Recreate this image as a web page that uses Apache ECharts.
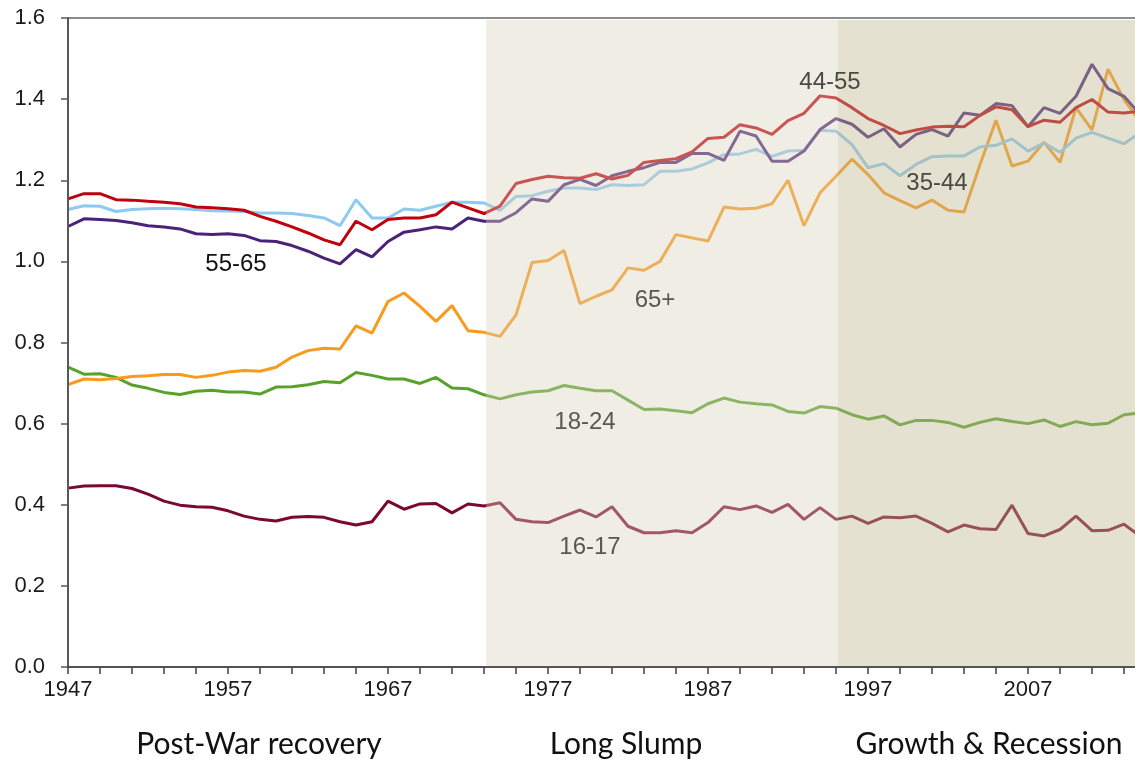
<!DOCTYPE html>
<html lang="en">
<head>
<meta charset="utf-8">
<title>Ratio by age group, 1947-2014</title>
<script src="https://cdn.jsdelivr.net/npm/echarts@6/dist/echarts.min.js"></script>
<style>
  html, body { margin: 0; padding: 0; background: #fff; }
  #main { width: 1135px; height: 765px; }
</style>
</head>
<body>
<div id="main"></div>
<script>
// x categories
var years = ['1947','1948','1949','1950','1951','1952','1953','1954','1955','1956',
  '1957','1958','1959','1960','1961','1962','1963','1964','1965','1966',
  '1967','1968','1969','1970','1971','1972','1973','1974','1975','1976',
  '1977','1978','1979','1980','1981','1982','1983','1984','1985','1986',
  '1987','1988','1989','1990','1991','1992','1993','1994','1995','1996',
  '1997','1998','1999','2000','2001','2002','2003','2004','2005','2006',
  '2007','2008','2009','2010','2011','2012','2013','2014'];

// series values (1947 .. 2014)
var age44_55 = [1.154,1.167,1.167,1.152,1.151,1.148,1.146,1.142,1.134,1.132,
  1.130,1.126,1.111,1.099,1.085,1.070,1.053,1.041,1.099,1.078,
  1.103,1.107,1.107,1.115,1.146,1.132,1.118,1.136,1.192,1.202,
  1.210,1.206,1.205,1.216,1.203,1.212,1.244,1.249,1.253,1.270,
  1.303,1.306,1.337,1.329,1.313,1.347,1.365,1.408,1.403,1.379,
  1.352,1.335,1.315,1.324,1.331,1.333,1.332,1.360,1.381,1.374,
  1.332,1.348,1.343,1.379,1.399,1.368,1.366,1.370];

var age35_44 = [1.128,1.137,1.136,1.123,1.128,1.130,1.131,1.130,1.128,1.125,
  1.124,1.123,1.119,1.119,1.118,1.113,1.107,1.088,1.152,1.107,
  1.107,1.129,1.126,1.136,1.146,1.146,1.144,1.126,1.160,1.162,
  1.173,1.181,1.181,1.177,1.189,1.187,1.189,1.222,1.222,1.228,
  1.243,1.263,1.265,1.276,1.259,1.272,1.274,1.323,1.321,1.288,
  1.231,1.241,1.211,1.239,1.258,1.260,1.260,1.282,1.286,1.302,
  1.272,1.292,1.269,1.304,1.318,1.304,1.290,1.317];

var age55_65 = [1.086,1.105,1.103,1.101,1.095,1.088,1.085,1.080,1.068,1.066,
  1.068,1.064,1.051,1.049,1.039,1.025,1.008,0.994,1.029,1.011,
  1.049,1.072,1.078,1.085,1.080,1.107,1.099,1.099,1.120,1.154,
  1.148,1.189,1.202,1.187,1.211,1.222,1.231,1.244,1.244,1.266,
  1.266,1.249,1.321,1.309,1.247,1.247,1.272,1.325,1.352,1.338,
  1.306,1.327,1.282,1.313,1.325,1.309,1.366,1.360,1.389,1.384,
  1.332,1.379,1.365,1.407,1.486,1.426,1.407,1.362];

var age65plus = [0.696,0.710,0.708,0.711,0.716,0.718,0.721,0.721,0.714,0.719,
  0.727,0.731,0.729,0.739,0.764,0.780,0.786,0.784,0.841,0.823,
  0.901,0.922,0.889,0.852,0.891,0.829,0.825,0.815,0.868,0.997,
  1.002,1.027,0.896,0.914,0.930,0.984,0.978,1.000,1.066,1.058,
  1.050,1.134,1.129,1.131,1.142,1.200,1.088,1.169,1.210,1.252,
  1.214,1.169,1.150,1.132,1.151,1.126,1.122,1.239,1.348,1.235,
  1.247,1.294,1.244,1.379,1.324,1.474,1.399,1.345];

var age18_24 = [0.739,0.722,0.723,0.714,0.695,0.687,0.677,0.672,0.680,0.682,
  0.678,0.678,0.673,0.690,0.691,0.696,0.704,0.701,0.726,0.719,
  0.710,0.710,0.699,0.714,0.688,0.686,0.671,0.661,0.671,0.678,
  0.681,0.694,0.687,0.681,0.681,0.658,0.635,0.636,0.632,0.627,
  0.649,0.663,0.653,0.649,0.646,0.630,0.626,0.642,0.638,0.622,
  0.611,0.619,0.597,0.608,0.608,0.603,0.591,0.603,0.612,0.605,
  0.600,0.609,0.593,0.605,0.597,0.601,0.622,0.626];

var age16_17 = [0.441,0.446,0.447,0.447,0.440,0.426,0.409,0.399,0.395,0.394,
  0.385,0.372,0.364,0.360,0.369,0.371,0.369,0.358,0.350,0.358,
  0.409,0.389,0.402,0.403,0.380,0.402,0.397,0.405,0.364,0.358,
  0.356,0.372,0.387,0.370,0.395,0.347,0.331,0.331,0.336,0.331,
  0.356,0.395,0.388,0.397,0.381,0.401,0.364,0.393,0.364,0.372,
  0.354,0.370,0.368,0.372,0.354,0.333,0.350,0.341,0.339,0.399,
  0.329,0.323,0.339,0.372,0.336,0.337,0.352,0.323];

// y axis ticks
var yMin = 0, yMax = 1.6, yStep = 0.2;

// periods (shaded ones drawn over the lines, like the original)
var periodNames = ['Post-War recovery', 'Long Slump', 'Growth & Recession'];
var periodFrom = ['1947', '1973', '1995'];
var periodTo = ['1973', '1995', '2014'];

var chart = echarts.init(document.getElementById('main'), null, { renderer: 'canvas' });

function lineSeries(name, data, color) {
  return {
    name: name,
    type: 'line',
    data: data,
    symbol: 'none',
    smooth: false,
    z: 2,
    lineStyle: { width: 3, color: color },
    itemStyle: { color: color },
    emphasis: { disabled: true }
  };
}

var shadeColors = ['rgba(0,0,0,0)', 'rgba(218,211,188,0.40)', 'rgba(190,184,146,0.42)'];
var shadeData = [];
for (var i = 1; i < periodNames.length; i++) {
  shadeData.push({ value: [periodFrom[i], periodTo[i]], itemStyle: { color: shadeColors[i] } });
}

var labelFont = 'Liberation Sans';
function note(text, x, y, color) {
  return {
    type: 'text', x: x, y: y, z: 100,
    style: {
      text: text, fill: color, fontSize: 24, fontFamily: labelFont,
      align: 'center', verticalAlign: 'middle',
      textAlign: 'center', textVerticalAlign: 'middle'
    }
  };
}
function period(text, x) {
  return {
    type: 'text', x: x, y: 744, z: 100,
    style: {
      text: text, fill: '#111', fontSize: 30, fontFamily: 'Lato',
      align: 'center', verticalAlign: 'middle',
      textAlign: 'center', textVerticalAlign: 'middle'
    }
  };
}

var option = {
  animation: false,
  backgroundColor: '#fff',
  grid: {
    left: 68, top: 18, right: -5, bottom: 98,
    show: true, borderColor: '#8c8c8c', borderWidth: 2,
    backgroundColor: 'transparent',
    outerBoundsMode: 'none'
  },
  xAxis: {
    type: 'category',
    data: years,
    boundaryGap: false,
    z: 20,
    axisLine: { lineStyle: { color: '#404040', width: 1.5 } },
    axisTick: { interval: 1, length: 7, lineStyle: { color: '#404040', width: 1.5 } },
    axisLabel: { interval: 9, margin: 12, color: '#1a1a1a', fontSize: 22, fontFamily: labelFont },
    splitLine: { show: false }
  },
  yAxis: {
    type: 'value',
    min: yMin, max: yMax, interval: yStep,
    z: 20,
    axisLine: { show: true, lineStyle: { color: '#595959', width: 2 } },
    axisTick: { show: true, length: 7, lineStyle: { color: '#595959', width: 1.5 } },
    axisLabel: {
      margin: 23, color: '#1a1a1a', fontSize: 22, fontFamily: labelFont,
      formatter: function (v) { return v.toFixed(1); }
    },
    splitLine: { show: false }
  },
  series: [
    lineSeries('16-17', age16_17, '#7b0831'),
    lineSeries('18-24', age18_24, '#58a22a'),
    lineSeries('65+', age65plus, '#f99a1c'),
    lineSeries('35-44', age35_44, '#8dc9f0'),
    lineSeries('55-65', age55_65, '#4a2378'),
    lineSeries('44-55', age44_55, '#c0000b'),
    {
      // period shading, drawn on top of the lines with transparency
      type: 'custom',
      z: 10,
      silent: true,
      clip: false,
      encode: { x: [0, 1] },
      data: shadeData,
      renderItem: function (params, api) {
        var a = api.coord([api.value(0), yMax]);
        var b = api.coord([api.value(1), yMin]);
        return {
          type: 'rect',
          shape: { x: a[0] + 2, y: a[1] + 2, width: b[0] - a[0], height: b[1] - a[1] - 2 },
          style: { fill: api.visual('color') }
        };
      }
    }
  ],
  graphic: [
    note('55-65', 236, 264, '#111'),
    note('44-55', 830, 82, '#4a4942'),
    note('35-44', 937, 183, '#4a4942'),
    note('65+', 655, 300, '#59574f'),
    note('18-24', 585, 422, '#59574f'),
    note('16-17', 590, 547, '#59574f'),
    period(periodNames[0], 259),
    period(periodNames[1], 626),
    period(periodNames[2], 989)
  ]
};

chart.setOption(option);
</script>
</body>
</html>
